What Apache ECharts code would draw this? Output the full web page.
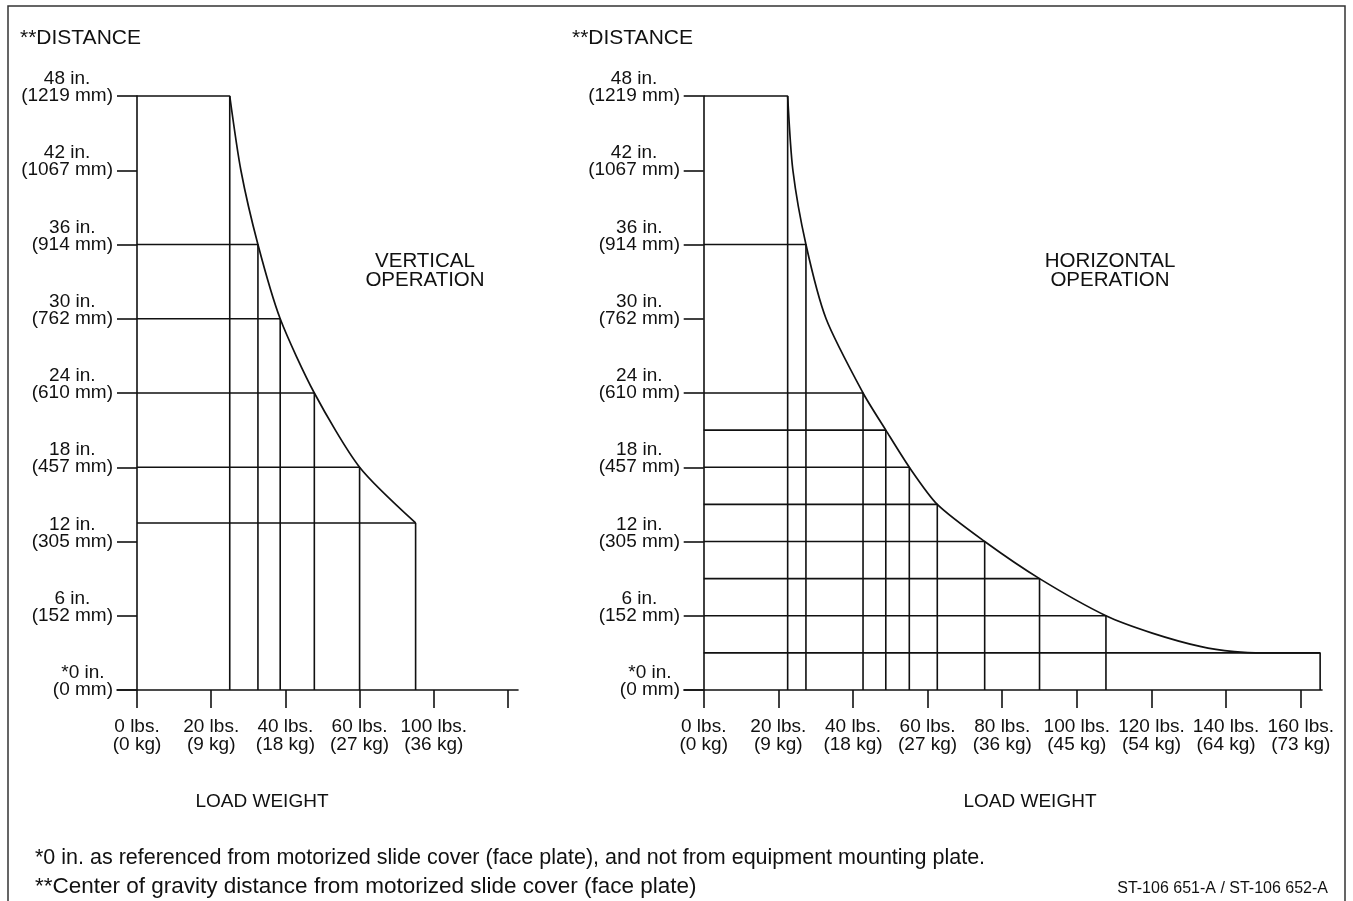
<!DOCTYPE html>
<html><head><meta charset="utf-8">
<script src="https://cdn.jsdelivr.net/npm/echarts@6/dist/echarts.min.js"></script>
<style>html,body{margin:0;padding:0;background:#fff}#c{width:1353px;height:901px}</style>
</head><body><div id="c"></div>
<script>
// ---- tick labels ----
const distTicks = [0, 6, 12, 18, 24, 30, 36, 42, 48];
const distLabelsIn = ['*0 in.', '6 in.', '12 in.', '18 in.', '24 in.', '30 in.', '36 in.', '42 in.', '48 in.'];
const distLabelsMm = ['(0 mm)', '(152 mm)', '(305 mm)', '(457 mm)', '(610 mm)', '(762 mm)', '(914 mm)', '(1067 mm)', '(1219 mm)'];

const vWeightTicks = [0, 20, 40, 60, 80, 100];
const vWeightLabelValues = [0, 20, 40, 60, 80];
const vWeightLbs = ['0 lbs.', '20 lbs.', '40 lbs.', '60 lbs.', '100 lbs.'];
const vWeightKg = ['(0 kg)', '(9 kg)', '(18 kg)', '(27 kg)', '(36 kg)'];

const hWeightTicks = [0, 20, 40, 60, 80, 100, 120, 140, 160];
const hWeightLbs = ['0 lbs.', '20 lbs.', '40 lbs.', '60 lbs.', '80 lbs.', '100 lbs.', '120 lbs.', '140 lbs.', '160 lbs.'];
const hWeightKg = ['(0 kg)', '(9 kg)', '(18 kg)', '(27 kg)', '(36 kg)', '(45 kg)', '(54 kg)', '(64 kg)', '(73 kg)'];

// ---- vertical operation (load lbs, distance in.) ----
const vCurveLoad = [25.0, 28.0, 32.6, 38.6, 47.8, 60.0, 75.1];
const vCurveDist = [48, 42, 36, 30, 24, 18, 13.5];
const vStepLoad = [25.0, 32.6, 38.6, 47.8, 60.0, 75.1];
const vStepDist = [48, 36, 30, 24, 18, 13.5];

// ---- horizontal operation ----
const hCurveLoad = [22.5, 23.9, 27.4, 32.8, 42.7, 48.8, 55.1, 62.6, 75.3, 90.0, 107.8, 120.2, 133.3, 142.2, 150.0, 165.2];
const hCurveDist = [48, 42, 36, 30, 24, 21, 18, 15, 12, 9, 6, 4.6, 3.5, 3.1, 3.0, 3.0];
const hStepLoad = [22.5, 27.4, 42.7, 48.8, 55.1, 62.6, 75.3, 90.0, 107.8, 165.2];
const hStepDist = [48, 36, 24, 21, 18, 15, 12, 9, 6, 3];

const FONT = "'Liberation Sans', Arial, Helvetica, sans-serif";
const INK = '#111';
const FS = 19;

const chart = echarts.init(document.getElementById('c'), null, {renderer: 'canvas'});

function yAxisFor(gridIndex) {
  return {
    type: 'value', gridIndex, min: 0, max: 48, interval: 6,
    splitLine: {show: false},
    axisLine: {show: true, onZero: true, lineStyle: {color: INK, width: 1.6}},
    axisTick: {show: true, length: 20, lineStyle: {color: INK, width: 1.6}},
    axisLabel: {
      show: true, margin: 4, align: 'right', verticalAlign: 'middle',
      fontFamily: FONT, fontSize: FS, color: INK, lineHeight: 17,
      formatter: function (v) {
        const i = distTicks.indexOf(v);
        if (i < 0) return '';
        return '{c|' + distLabelsIn[i] + '}\n{c|' + distLabelsMm[i] + '}\n{c| }';
      },
      rich: {c: {align: 'center', fontFamily: FONT, fontSize: FS, lineHeight: 17, color: INK}}
    }
  };
}

function xAxisFor(gridIndex, min, max, ticks, labelVals, lbs, kg) {
  return {
    type: 'value', gridIndex, min, max,
    splitLine: {show: false},
    axisLine: {show: true, onZero: true, lineStyle: {color: INK, width: 1.6}},
    axisTick: {show: true, length: 18, customValues: ticks, lineStyle: {color: INK, width: 1.6}},
    axisLabel: {
      show: true, margin: 28, customValues: labelVals, align: 'center', verticalAlign: 'top',
      fontFamily: FONT, fontSize: FS, color: INK, lineHeight: 18,
      formatter: function (v) {
        const i = labelVals.indexOf(v);
        if (i < 0) return '';
        return lbs[i] + '\n' + kg[i];
      }
    }
  };
}

const series = [];
function addChart(idx, curveL, curveD, stepL, stepD) {
  series.push({
    type: 'line', xAxisIndex: idx, yAxisIndex: idx, smooth: 0.25, showSymbol: false, clip: false,
    lineStyle: {color: INK, width: 1.7}, z: 3,
    data: curveL.map((l, i) => [l, curveD[i]])
  });
  stepL.forEach((l, i) => {
    series.push({
      type: 'line', xAxisIndex: idx, yAxisIndex: idx, showSymbol: false, clip: false,
      lineStyle: {color: INK, width: 1.6}, z: 2,
      data: [[0, stepD[i]], [l, stepD[i]], [l, 0]]
    });
  });
}
addChart(0, vCurveLoad, vCurveDist, vStepLoad, vStepDist);
addChart(1, hCurveLoad, hCurveDist, hStepLoad, hStepDist);

function txt(x, y, text, size, opts) {
  return {
    type: 'text', x, y, silent: true,
    style: Object.assign({text, font: size + 'px ' + FONT, fill: INK, textAlign: 'left', textVerticalAlign: 'middle'}, opts || {})
  };
}

chart.setOption({
  animation: false,
  backgroundColor: '#fff',
  grid: [
    {left: 117, right: 835, top: 96, bottom: 211, containLabel: false},
    {left: 684, right: 31, top: 96, bottom: 211, containLabel: false}
  ],
  xAxis: [
    xAxisFor(0, -5.39, 102.7, vWeightTicks, vWeightLabelValues, vWeightLbs, vWeightKg),
    xAxisFor(1, -5.28, 165.7, hWeightTicks, hWeightTicks, hWeightLbs, hWeightKg)
  ],
  yAxis: [yAxisFor(0), yAxisFor(1)],
  series,
  graphic: [
    {type: 'rect', silent: true, shape: {x: 8, y: 6, width: 1337, height: 920},
      style: {fill: 'none', stroke: '#333', lineWidth: 1.5}},
    txt(20, 38, '**DISTANCE', 21),
    txt(572, 38, '**DISTANCE', 21),
    txt(425, 271, 'VERTICAL\nOPERATION', 20.5, {textAlign: 'center', lineHeight: 19}),
    txt(1110, 271, 'HORIZONTAL\nOPERATION', 20.5, {textAlign: 'center', lineHeight: 19}),
    txt(262, 802, 'LOAD WEIGHT', 19, {textAlign: 'center'}),
    txt(1030, 802, 'LOAD WEIGHT', 19, {textAlign: 'center'}),
    txt(35, 858, '*0 in. as referenced from motorized slide cover (face plate), and not from equipment mounting plate.', 21.5),
    txt(35, 887, '**Center of gravity distance from motorized slide cover (face plate)', 22.5),
    txt(1328, 889, 'ST-106 651-A / ST-106 652-A', 16, {textAlign: 'right'})
  ]
});
</script>
</body></html>
